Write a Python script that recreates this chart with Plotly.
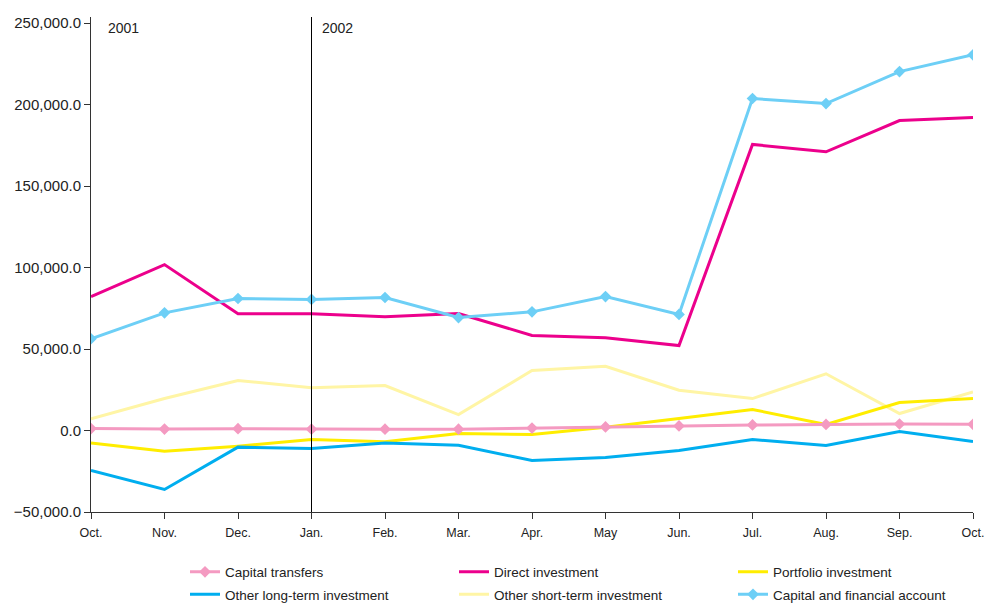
import plotly.graph_objects as go

months = ["Oct.", "Nov.", "Dec.", "Jan.", "Feb.", "Mar.", "Apr.", "May", "Jun.", "Jul.", "Aug.", "Sep.", "Oct."]
x_pos = list(range(len(months)))

capital_transfers = [1200, 900, 1100, 800, 800, 800, 1500, 2200, 2800, 3400, 3700, 4000, 3800]
direct_investment = [82200, 101800, 71600, 71600, 69800, 71800, 58300, 56900, 52100, 175500, 171000, 190200, 192000]
portfolio_investment = [-7600, -12700, -9600, -5500, -6900, -1800, -2500, 2000, 7400, 12900, 3700, 17200, 19600]
other_long_term = [-24500, -36200, -10200, -11000, -7600, -9000, -18400, -16600, -12300, -5500, -9200, -600, -6700]
other_short_term = [7200, 19600, 30700, 26200, 27600, 9800, 36800, 39400, 24700, 19600, 34800, 10400, 23700]
capital_financial = [56300, 72200, 81000, 80400, 81600, 69300, 72800, 82200, 71200, 203700, 200600, 220200, 230500]

y_ticks = [-50000, 0, 50000, 100000, 150000, 200000, 250000]

# name, values, colour, markers, legend column, row
series = [
    ("Capital transfers", capital_transfers, "#F49AC1", True, "legend", 1),
    ("Direct investment", direct_investment, "#EC008C", False, "legend2", 1),
    ("Portfolio investment", portfolio_investment, "#FFED00", False, "legend3", 1),
    ("Other long-term investment", other_long_term, "#00AEEF", False, "legend", 2),
    ("Other short-term investment", other_short_term, "#FFF5A5", False, "legend2", 2),
    ("Capital and financial account", capital_financial, "#6DCFF6", True, "legend3", 2),
]

draw_order = [4, 2, 3, 0, 1, 5]
fig = go.Figure()
for i in draw_order:
    name, vals, color, mk, leg, row = series[i]
    fig.add_trace(go.Scatter(
        x=x_pos, y=vals, name=name,
        mode="lines+markers" if mk else "lines",
        line=dict(color=color, width=3),
        marker=dict(symbol="diamond", size=9, color=color),
        legend=leg, legendrank=row, legendgroup=name,
    ))

fig.add_shape(type="line", xref="x", yref="paper", x0=3, x1=3, y0=0, y1=1,
              line=dict(color="#000000", width=1))
fig.add_annotation(x=0.2, y=1, xref="x", yref="paper", yshift=-1, text="2001", showarrow=False,
                   xanchor="left", yanchor="top", font=dict(size=14, color="#222"))
fig.add_annotation(x=3.12, y=1, xref="x", yref="paper", yshift=-1, text="2002", showarrow=False,
                   xanchor="left", yanchor="top", font=dict(size=14, color="#222"))

plot_w = 984 - 91 - 11
leg_common = dict(orientation="v", yanchor="top", yref="container", xref="paper",
                  y=1 - 556.5 / 604, font=dict(size=13.5), traceorder="grouped", tracegroupgap=2,
                  bgcolor="rgba(0,0,0,0)")
fig.update_layout(
    width=984, height=604,
    margin=dict(l=91, r=11, t=17, b=92),
    paper_bgcolor="white", plot_bgcolor="white",
    font=dict(family="Liberation Sans, Arial, sans-serif", color="#222"),
    showlegend=True,
    legend=dict(x=(185 - 91) / plot_w, xanchor="left", **leg_common),
    legend2=dict(x=(454 - 91) / plot_w, xanchor="left", **leg_common),
    legend3=dict(x=(951 - 91) / plot_w, xanchor="right", **leg_common),
)
fig.update_xaxes(
    range=[0, 12], tickmode="array", tickvals=x_pos, ticktext=months,
    showgrid=False, zeroline=False, showline=True, linecolor="#333", linewidth=1,
    ticks="outside", ticklen=6, tickcolor="#333", tickfont=dict(size=12.5),
    ticklabeloverflow="allow", ticklabelstandoff=3, automargin=False,
)
fig.update_yaxes(
    range=[-50000, 253700], tickmode="array", tickvals=y_ticks, tickformat=",.1f",
    showgrid=False, zeroline=False, showline=True, linecolor="#333", linewidth=1,
    ticks="outside", ticklen=6, tickcolor="#333", tickfont=dict(size=15), automargin=False,
)

fig.write_html("out.html")
